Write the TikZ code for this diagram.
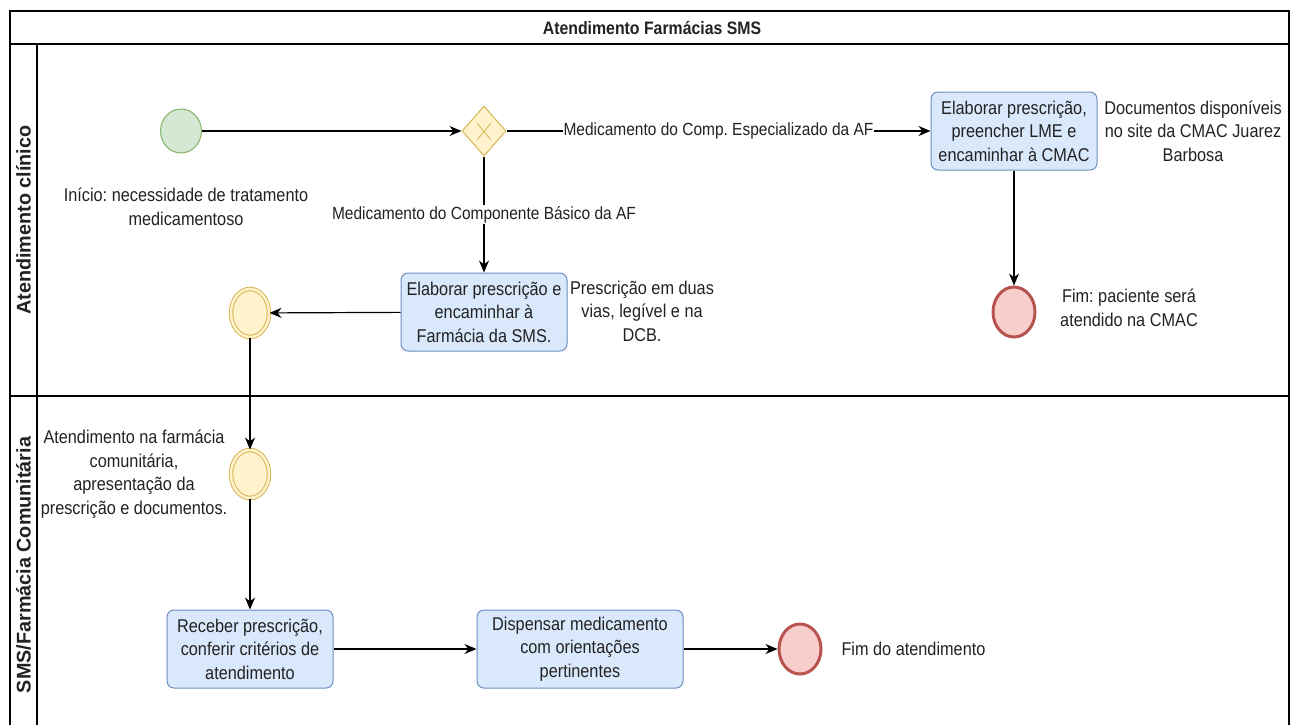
\documentclass[tikz,border=0pt]{standalone}
\usepackage{fontspec}
\setmainfont[FakeStretch=0.88]{Liberation Sans}
\newfontfamily\lanefont{Liberation Sans}
\usetikzlibrary{shapes.geometric, arrows.meta, positioning}
\frenchspacing

\definecolor{startfill}{HTML}{D5E8D4}
\definecolor{startdraw}{HTML}{82B366}
\definecolor{gatefill}{HTML}{FFF2CC}
\definecolor{gatedraw}{HTML}{D6B656}
\definecolor{taskfill}{HTML}{DAE8FC}
\definecolor{taskdraw}{HTML}{6C8EBF}
\definecolor{endfill}{HTML}{F8CECC}
\definecolor{enddraw}{HTML}{B85450}
\definecolor{txt}{HTML}{222222}

\tikzset{
  task/.style={draw=taskdraw, fill=taskfill, rounded corners=7pt, line width=1pt,
    minimum width=166pt, minimum height=78pt, align=center, inner sep=2pt},
  startevent/.style={ellipse, draw=startdraw, fill=startfill, line width=1pt,
    minimum width=41pt, minimum height=44pt},
  midevent/.style={ellipse, draw=gatedraw, fill=gatefill, double=gatefill,
    double distance=2.5pt, line width=1pt, minimum width=38pt, minimum height=48pt},
  endevent/.style={ellipse, draw=enddraw, fill=endfill, line width=3pt,
    minimum width=42pt, minimum height=50pt},
  gateway/.style={diamond, draw=gatedraw, fill=gatefill, line width=1pt,
    minimum width=44pt, minimum height=50pt, inner sep=0pt},
  flow/.style={-{Stealth[length=12pt, width=10pt]}, line width=1.2pt},
  edgelabel/.style={fill=white, inner sep=1pt, font=\fontsize{17.6}{22}\selectfont},
  note/.style={align=center, text=txt},
  lane/.style={rotate=90, text=txt, font=\lanefont\fontsize{19.8}{22}\selectfont\bfseries},
}

\begin{document}
\begin{tikzpicture}[x=1pt, y=-1pt, font=\fontsize{18.5}{23.5}\selectfont, text=txt]
    \useasboundingbox (0,0) rectangle (1290,724);

    % pool and lanes
    \draw[line width=1.2pt] (10,730) -- (10,11) -- (1289,11) -- (1289,730);
    \draw[line width=1.2pt] (10,44) -- (1289,44);
    \draw[line width=1.2pt] (37,44) -- (37,730);
    \draw[line width=1.2pt] (10,396) -- (1289,396);
    \node[font=\bfseries\fontsize{18}{22}\selectfont] (title) at (652,28) {Atendimento Farmácias SMS};
    \node[lane] (lane1) at (23.5,220) {Atendimento clínico};
    \node[lane] (lane2) at (23.5,565) {SMS/Farmácia Comunitária};

    % lane 1
    \node[startevent] (start) at (181,131) {};
    \node[note] (starttxt) at (186,207) {Início: necessidade de tratamento\\medicamentoso};
    \node[gateway] (gw) at (484,131) {};
    \draw[gatedraw, line width=0.8pt] (477,123) -- (491,140) (491,123) -- (477,140);
    \node[task] (t1) at (1014,131) {Elaborar prescrição,\\preencher LME e\\encaminhar à CMAC};
    \node[note] (t1txt) at (1193,131) {Documentos disponíveis\\no site da CMAC Juarez\\Barbosa};
    \node[endevent] (end1) at (1014,312) {};
    \node[note] (end1txt) at (1129,308) {Fim: paciente será\\atendido na CMAC};
    \node[task] (t2) at (484,312) {Elaborar prescrição e\\encaminhar à\\Farmácia da SMS.};
    \node[note] (t2txt) at (642,311) {Prescrição em duas\\vias, legível e na\\DCB.};
    \node[midevent] (ev1) at (250,313) {};

    % lane 2
    \node[midevent] (ev2) at (250,474) {};
    \node[note] (ev2txt) at (134,474) {Atendimento na farmácia\\comunitária,\\apresentação da\\prescrição e documentos.};
    \node[task] (t3) at (250,649) {Receber prescrição,\\conferir critérios de\\atendimento};
    \node[task, minimum width=206pt] (t4) at (580,649) {Dispensar medicamento\\com orientações\\pertinentes};
    \node[endevent] (end2) at (800,649) {};
    \node[note, anchor=west] (end2txt) at (838,649) {Fim do atendimento};

    \draw[flow] (start) -- (gw);
    \draw[flow] (gw) -- node[edgelabel] {Medicamento do Comp. Especializado da AF} (t1);
    \draw[flow] (gw) -- node[edgelabel] {Medicamento do Componente Básico da AF} (t2);
    \draw[flow] (t1) -- (end1);
    \draw[flow] (t2) -- (ev1);
    \draw[flow] (ev1) -- (ev2);
    \draw[flow] (ev2) -- (t3);
    \draw[flow] (t3) -- (t4);
    \draw[flow] (t4) -- (end2);
\end{tikzpicture}
\end{document}
